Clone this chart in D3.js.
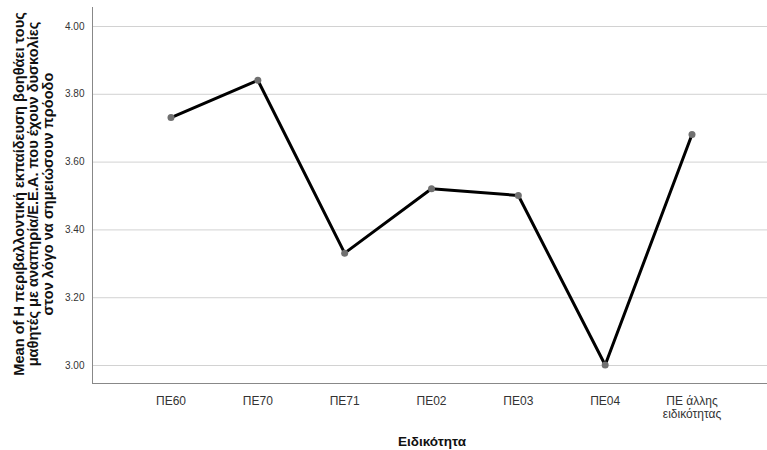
<!DOCTYPE html>
<html><head><meta charset="utf-8">
<script src="https://cdn.jsdelivr.net/npm/d3@7"></script>
<style>body{margin:0;background:#fff}svg{display:block}</style>
</head><body><svg id="c" width="767" height="450"></svg>
<script>
const categories = [["ΠΕ60"],["ΠΕ70"],["ΠΕ71"],["ΠΕ02"],["ΠΕ03"],["ΠΕ04"],["ΠΕ άλλης","ειδικότητας"]];
const means = [3.73, 3.84, 3.33, 3.52, 3.50, 3.00, 3.68];
const yTicks = [3.00, 3.20, 3.40, 3.60, 3.80, 4.00];
const yTitle = ["Mean of Η περιβαλλοντική εκπαίδευση βοηθάει τους","μαθητές με αναπηρία/Ε.Ε.Α. που έχουν δυσκολίες","στον λόγο να σημειώσουν πρόοδο"];
const xTitle = "Ειδικότητα";

(function(){
const svg = d3.select("#c");
const pl = 92, pr = 767, pt = 7, pb = 383;
const keys = categories.map((d,i)=>i);
const x = d3.scalePoint().domain(keys).range([171, 692]);
const y = d3.scaleLinear().domain([2.947, 4.056]).range([pb, pt]);

svg.append("g").selectAll("line").data(yTicks).join("line")
  .attr("x1", pl).attr("x2", pr)
  .attr("y1", d=>y(d)+0.5).attr("y2", d=>y(d)+0.5)
  .attr("stroke", "#d2d2d2").attr("stroke-width", 1);

const ya = svg.append("g").attr("transform", `translate(${pl+0.5},0)`)
  .call(d3.axisLeft(y).tickValues(yTicks).tickFormat(d3.format(".2f")).tickSize(0).tickPadding(8));
ya.select(".domain").attr("stroke", "#888").attr("d", `M0,${pt}V${pb}`);
ya.selectAll("text").attr("font-family", "Liberation Sans, Arial, sans-serif").attr("font-size", 10).attr("fill", "#333");

svg.append("line").attr("x1", pl).attr("x2", pr).attr("y1", pb+0.5).attr("y2", pb+0.5).attr("stroke", "#888");
const xl = svg.append("g").selectAll("text").data(keys).join("text")
  .attr("x", d=>x(d)).attr("y", 405).attr("text-anchor", "middle")
  .attr("font-family", "Liberation Sans, Arial, sans-serif").attr("font-size", 12).attr("fill", "#333");
xl.each(function(d){
  const t = d3.select(this);
  categories[d].forEach((s,j)=>t.append("tspan").attr("x", x(d)).attr("dy", j?13:0).text(s));
});

const data = keys.map(i=>({k:i, v:means[i]}));
svg.append("path").datum(data)
  .attr("d", d3.line().x(d=>x(d.k)).y(d=>y(d.v)))
  .attr("fill", "none").attr("stroke", "#000").attr("stroke-width", 3).attr("stroke-linejoin", "round");
svg.append("g").selectAll("circle").data(data).join("circle")
  .attr("cx", d=>x(d.k)).attr("cy", d=>y(d.v)).attr("r", 3.5).attr("fill", "#707070");

svg.append("text").attr("x", 432).attr("y", 446).attr("text-anchor", "middle")
  .attr("font-family", "Liberation Sans, Arial, sans-serif").attr("font-size", 13.5).attr("font-weight", "bold").attr("fill", "#111").text(xTitle);
const yt = svg.append("text").attr("transform", "translate(0,194) rotate(-90)").attr("text-anchor", "middle")
  .attr("font-family", "Liberation Sans, Arial, sans-serif").attr("font-size", 14.6).attr("font-weight", "bold").attr("fill", "#111");
yTitle.forEach((s,j)=>yt.append("tspan").attr("x", 0).attr("y", 24 + j*14.3).text(s));
})();
</script></body></html>
